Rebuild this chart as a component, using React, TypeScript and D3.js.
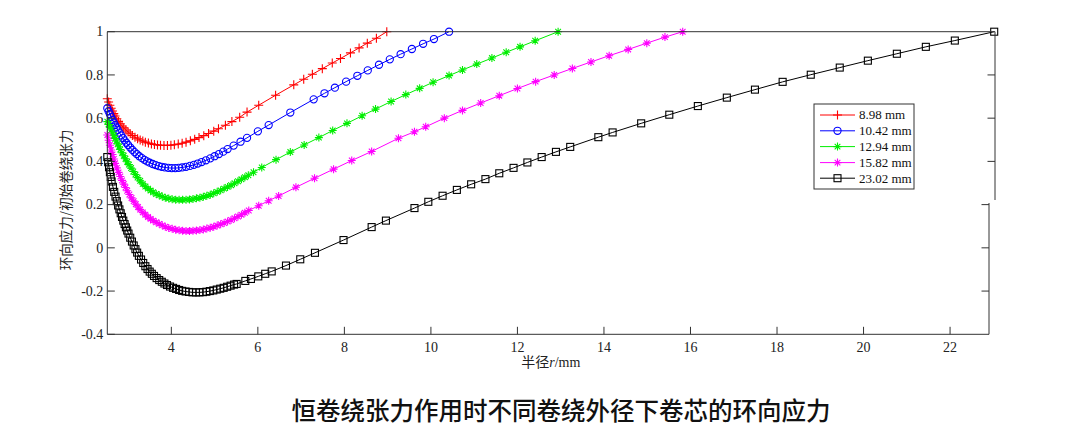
import React from "react";
import * as d3 from "d3";

// ---------- data ----------
const xTicks = [4, 6, 8, 10, 12, 14, 16, 18, 20, 22];
const yTicks = [-0.4, -0.2, 0, 0.2, 0.4, 0.6, 0.8, 1];
const yTickLabels = ["-0.4", "-0.2", "0", "0.2", "0.4", "0.6", "0.8", "1"];
const seriesNames = ["8.98 mm", "10.42 mm", "12.94 mm", "15.82 mm", "23.02 mm"];

const redR = [2.52,2.55,2.58,2.61,2.64,2.67,2.70,2.74,2.78,2.82,2.86,2.90,2.95,3.00,3.05,3.10,3.16,3.22,3.28,3.34,3.40,3.47,3.54,3.61,3.68,3.75,3.83,3.91,3.99,4.07,4.16,4.25,4.34,4.44,4.54,4.64,4.75,4.86,4.98,5.09,5.25,5.40,5.58,5.75,6.02,6.41,6.83,7.06,7.26,7.49,7.72,7.91,8.14,8.34,8.53,8.74,8.98];
const redV = [0.690,0.675,0.660,0.646,0.633,0.621,0.610,0.597,0.585,0.574,0.564,0.555,0.545,0.536,0.528,0.520,0.512,0.505,0.499,0.494,0.489,0.485,0.481,0.478,0.476,0.475,0.474,0.474,0.475,0.477,0.480,0.484,0.489,0.495,0.502,0.510,0.519,0.529,0.540,0.551,0.567,0.584,0.604,0.628,0.660,0.706,0.754,0.780,0.803,0.829,0.855,0.876,0.902,0.925,0.947,0.970,1.0];

const blueR = [2.52,2.55,2.58,2.61,2.64,2.67,2.70,2.73,2.76,2.80,2.84,2.88,2.92,2.96,3.00,3.05,3.10,3.15,3.20,3.26,3.32,3.38,3.44,3.50,3.57,3.64,3.71,3.78,3.85,3.93,4.01,4.09,4.17,4.25,4.34,4.43,4.52,4.61,4.70,4.80,4.90,5.00,5.10,5.20,5.30,5.44,5.60,5.75,6.00,6.25,6.75,7.29,7.54,7.78,8.04,8.30,8.54,8.80,9.05,9.30,9.56,9.82,10.07,10.42];
const blueV = [0.646,0.632,0.618,0.605,0.592,0.580,0.568,0.557,0.546,0.533,0.520,0.508,0.497,0.486,0.476,0.464,0.453,0.443,0.434,0.424,0.415,0.407,0.400,0.394,0.388,0.383,0.378,0.375,0.372,0.370,0.369,0.369,0.370,0.372,0.375,0.379,0.384,0.390,0.397,0.405,0.414,0.424,0.434,0.445,0.457,0.473,0.491,0.509,0.539,0.568,0.626,0.687,0.715,0.741,0.769,0.796,0.821,0.847,0.872,0.896,0.920,0.944,0.966,1.0];

const greenR = [2.52,2.55,2.58,2.61,2.64,2.67,2.70,2.73,2.76,2.79,2.82,2.86,2.90,2.94,2.98,3.02,3.07,3.12,3.17,3.22,3.28,3.34,3.40,3.46,3.52,3.58,3.65,3.72,3.79,3.86,3.94,4.02,4.10,4.18,4.26,4.34,4.42,4.50,4.58,4.66,4.74,4.82,4.90,4.98,5.06,5.14,5.22,5.30,5.38,5.46,5.54,5.62,5.70,5.78,5.90,6.09,6.42,6.75,7.07,7.41,7.73,8.06,8.41,8.72,9.08,9.42,9.74,10.05,10.42,10.73,11.06,11.41,11.74,12.06,12.41,12.94];
const greenV = [0.584,0.571,0.558,0.545,0.532,0.519,0.506,0.494,0.481,0.468,0.455,0.440,0.426,0.412,0.398,0.385,0.369,0.353,0.339,0.325,0.310,0.296,0.284,0.274,0.265,0.257,0.249,0.243,0.237,0.232,0.228,0.225,0.223,0.222,0.222,0.223,0.224,0.226,0.229,0.232,0.236,0.241,0.246,0.252,0.259,0.266,0.274,0.282,0.290,0.299,0.308,0.317,0.327,0.336,0.350,0.372,0.408,0.443,0.476,0.510,0.543,0.576,0.611,0.642,0.677,0.709,0.738,0.766,0.797,0.823,0.850,0.878,0.905,0.930,0.958,1.0];

const magentaR = [2.52,2.55,2.58,2.61,2.64,2.67,2.70,2.74,2.78,2.82,2.86,2.90,2.94,2.98,3.03,3.08,3.13,3.18,3.23,3.28,3.34,3.40,3.46,3.52,3.58,3.65,3.72,3.79,3.86,3.94,4.02,4.10,4.18,4.26,4.34,4.42,4.50,4.58,4.66,4.74,4.82,4.90,4.98,5.06,5.14,5.22,5.30,5.38,5.46,5.54,5.62,5.70,5.79,6.02,6.25,6.48,6.88,7.31,7.75,8.17,8.63,9.25,9.62,9.88,10.31,10.73,11.15,11.58,12.00,12.42,12.85,13.27,13.70,14.12,14.56,14.99,15.41,15.82];
const magentaV = [0.522,0.498,0.475,0.453,0.432,0.411,0.391,0.370,0.349,0.330,0.312,0.295,0.279,0.264,0.247,0.231,0.216,0.202,0.189,0.177,0.164,0.153,0.143,0.134,0.126,0.118,0.111,0.104,0.098,0.092,0.088,0.084,0.081,0.079,0.078,0.078,0.079,0.080,0.082,0.085,0.089,0.093,0.098,0.103,0.109,0.115,0.122,0.129,0.137,0.145,0.153,0.162,0.173,0.195,0.218,0.240,0.280,0.322,0.364,0.404,0.446,0.507,0.537,0.560,0.600,0.636,0.670,0.704,0.737,0.769,0.800,0.830,0.860,0.889,0.918,0.947,0.975,1.0];

const blackR = [2.52,2.54,2.56,2.58,2.60,2.62,2.65,2.68,2.71,2.74,2.77,2.80,2.83,2.86,2.89,2.92,2.95,2.98,3.01,3.05,3.09,3.13,3.17,3.21,3.25,3.30,3.35,3.40,3.45,3.50,3.55,3.60,3.66,3.72,3.78,3.84,3.90,3.97,4.04,4.11,4.18,4.25,4.33,4.41,4.49,4.57,4.65,4.73,4.81,4.89,4.97,5.05,5.13,5.21,5.29,5.37,5.45,5.51,5.71,5.84,6.01,6.17,6.32,6.65,6.98,7.32,7.98,8.63,8.96,9.62,9.94,10.27,10.60,10.93,11.26,11.58,11.91,12.23,12.56,12.89,13.22,13.87,14.20,14.86,15.51,16.17,16.84,17.49,18.13,18.78,19.45,20.10,20.77,21.44,22.11,23.02];
const blackV = [0.420,0.396,0.373,0.350,0.328,0.307,0.282,0.259,0.237,0.216,0.196,0.178,0.160,0.143,0.126,0.110,0.095,0.080,0.066,0.047,0.029,0.011,-0.006,-0.022,-0.037,-0.054,-0.070,-0.085,-0.098,-0.110,-0.120,-0.130,-0.140,-0.149,-0.157,-0.165,-0.172,-0.179,-0.185,-0.190,-0.195,-0.199,-0.202,-0.204,-0.206,-0.206,-0.206,-0.205,-0.203,-0.200,-0.197,-0.193,-0.189,-0.185,-0.180,-0.175,-0.170,-0.167,-0.153,-0.144,-0.132,-0.120,-0.109,-0.082,-0.053,-0.023,0.036,0.096,0.126,0.184,0.213,0.241,0.268,0.294,0.318,0.345,0.370,0.395,0.420,0.444,0.467,0.512,0.534,0.576,0.616,0.656,0.695,0.732,0.768,0.801,0.834,0.866,0.898,0.930,0.959,1.0];

type Marker = "plus" | "circle" | "star" | "square";
const series: { name: string; r: number[]; v: number[]; color: string; marker: Marker }[] = [
  { name: seriesNames[0], r: redR, v: redV, color: "#ff0000", marker: "plus" },
  { name: seriesNames[1], r: blueR, v: blueV, color: "#0000ff", marker: "circle" },
  { name: seriesNames[2], r: greenR, v: greenV, color: "#00ee00", marker: "star" },
  { name: seriesNames[3], r: magentaR, v: magentaV, color: "#ff00ff", marker: "star" },
  { name: seriesNames[4], r: blackR, v: blackV, color: "#000000", marker: "square" },
];

// ---------- layout ----------
const W = 1080;
const H = 433;
const left = 107.3;
const right = 994.2;
const top = 31.7;
const bottom = 334.3;
const serif = "'Liberation Serif', 'Times New Roman', serif";
const cjk = "'Noto Sans CJK SC', sans-serif";
const axisColor = "#333";

const x = d3.scaleLinear().domain([2.52, 23.02]).range([left, right]);
const y = d3.scaleLinear().domain([-0.4, 1]).range([bottom, top]);

function MarkerShape({ kind, cx, cy, color }: { kind: Marker; cx: number; cy: number; color: string }) {
  if (kind === "plus") {
    const s = 4.5;
    return (
      <path d={`M${cx - s},${cy}H${cx + s}M${cx},${cy - s}V${cy + s}`} stroke={color} strokeWidth={1.1} fill="none" />
    );
  }
  if (kind === "circle") {
    return <circle cx={cx} cy={cy} r={3.6} stroke={color} strokeWidth={1.1} fill="none" />;
  }
  if (kind === "star") {
    const s = 4;
    const d = s * 0.7071;
    return (
      <path
        d={`M${cx - s},${cy}H${cx + s}M${cx},${cy - s}V${cy + s}M${cx - d},${cy - d}L${cx + d},${cy + d}M${cx - d},${cy + d}L${cx + d},${cy - d}`}
        stroke={color}
        strokeWidth={1.1}
        fill="none"
      />
    );
  }
  const s = 3.5;
  return <rect x={cx - s} y={cy - s} width={2 * s} height={2 * s} stroke={color} strokeWidth={1.1} fill="none" />;
}

export default function App() {
  const line = d3
    .line<[number, number]>()
    .x((d) => x(d[0]))
    .y((d) => y(d[1]));

  const legendX = 814;
  const legendY = 104;
  const legendRowY = [115, 130.8, 146.6, 162.6, 178.2];

  const rightBreak = 200;
  const rightLowerX = 989;

  return (
    <div style={{ position: "absolute", left: 0, top: 0 }}>
      <svg width={W} height={H} viewBox={`0 0 ${W} ${H}`} style={{ display: "block", background: "#fff" }}>
        <rect x={0} y={0} width={W} height={H} fill="#fff" />

        {/* series */}
        {series.map((s) => {
          const pts = s.r.map((r, i) => [r, s.v[i]] as [number, number]);
          return (
            <g key={s.name}>
              <path d={line(pts) || ""} stroke={s.color} strokeWidth={1} fill="none" />
              {pts.map((p, i) => (
                <MarkerShape key={i} kind={s.marker} cx={x(p[0])} cy={y(p[1])} color={s.color} />
              ))}
            </g>
          );
        })}

        {/* axes box */}
        <g stroke={axisColor} strokeWidth={1} fill="none">
          <line x1={left} y1={top} x2={right + 0.8} y2={top} />
          <line x1={left} y1={top} x2={left} y2={bottom} />
          <line x1={left} y1={bottom} x2={rightLowerX} y2={bottom} />
          <line x1={right + 0.8} y1={top} x2={right + 0.8} y2={rightBreak} />
          <line x1={rightLowerX} y1={rightBreak + 3} x2={rightLowerX} y2={bottom} />
          {xTicks.map((t) => (
            <line key={"xt" + t} x1={x(t)} x2={x(t)} y1={bottom} y2={bottom - 7.5} />
          ))}
          {yTicks.map((t) => (
            <line key={"yt" + t} x1={left} x2={left + 7.5} y1={y(t)} y2={y(t)} />
          ))}
          {yTicks
            .filter((t) => t > 0.2 && t < 1)
            .map((t) => (
              <line key={"yr" + t} x1={right + 0.8} x2={right + 0.8 - 7.5} y1={y(t)} y2={y(t)} />
            ))}
          {yTicks
            .filter((t) => t > -0.4 && t <= 0.2)
            .map((t) => (
              <line key={"yr2" + t} x1={rightLowerX} x2={rightLowerX - 7.5} y1={y(t)} y2={y(t)} />
            ))}
        </g>

        {/* tick labels */}
        <g fontFamily={serif} fontSize={14} fill="#222">
          {xTicks.map((t) => (
            <text key={"xl" + t} x={x(t)} y={bottom + 17.5} textAnchor="middle">
              {t}
            </text>
          ))}
          {yTicks.map((t, i) => (
            <text key={"yl" + t} x={left - 4} y={y(t) + 4.7} textAnchor="end">
              {yTickLabels[i]}
            </text>
          ))}
        </g>

        {/* axis titles */}
        <text x={(left + right) / 2} y={367} textAnchor="middle" fontSize={14} fill="#222">
          <tspan fontFamily={cjk}>半径</tspan>
          <tspan fontFamily={serif} fontStyle="italic">r</tspan>
          <tspan fontFamily={serif}>/mm</tspan>
        </text>
        <text
          transform={`translate(71,200) rotate(-90)`}
          textAnchor="middle"
          fontFamily={cjk}
          fontSize={13.5}
          fill="#222"
        >
          环向应力/初始卷绕张力
        </text>

        {/* legend */}
        <rect x={legendX} y={legendY} width={100} height={85} fill="#fff" stroke={axisColor} strokeWidth={1} />
        {series.map((s, i) => (
          <g key={"lg" + s.name}>
            <line x1={820} x2={855} y1={legendRowY[i]} y2={legendRowY[i]} stroke={s.color} strokeWidth={1} />
            <MarkerShape kind={s.marker} cx={837.5} cy={legendRowY[i]} color={s.color} />
            <text x={859} y={legendRowY[i] + 4.3} fontFamily={serif} fontSize={13} fill="#111">
              {s.name}
            </text>
          </g>
        ))}

        {/* caption */}
        <text x={561} y={420} textAnchor="middle" fontFamily={cjk} fontWeight={500} fontSize={24.5} fill="#111">
          恒卷绕张力作用时不同卷绕外径下卷芯的环向应力
        </text>
      </svg>
    </div>
  );
}
